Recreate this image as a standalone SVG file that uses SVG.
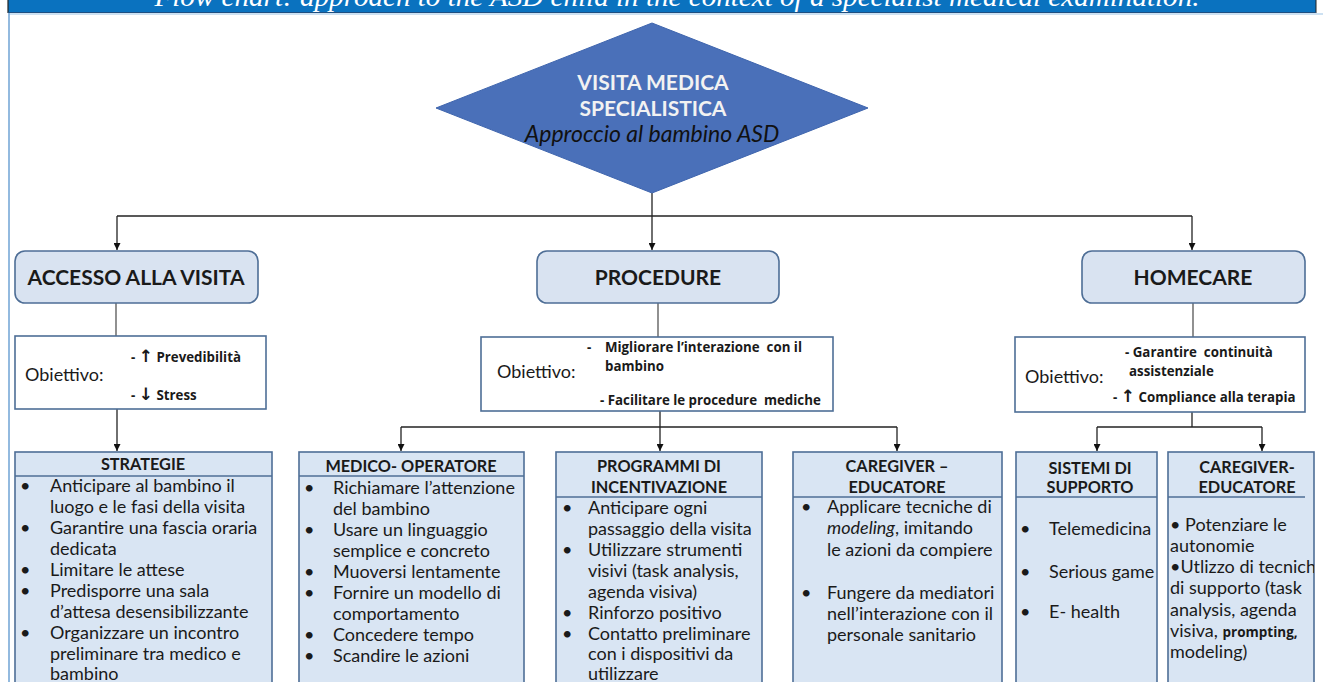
<svg xmlns="http://www.w3.org/2000/svg" width="1323" height="682" viewBox="0 0 1323 682">
<defs>
<marker id="arr" viewBox="0 0 10 10" refX="10" refY="5" markerWidth="7" markerHeight="7" markerUnits="userSpaceOnUse" orient="auto"><path d="M0,0 L10,5 L0,10 z" fill="#111"/></marker>
<clipPath id="cgclip"><rect x="1168" y="452" width="146" height="240"/></clipPath>
<style>
.main{fill:#d9e3f1;stroke:#4e6e96;stroke-width:1.6}
.obj{fill:#fff;stroke:#4e6e96;stroke-width:1.6}
.col{fill:#d9e5f3;stroke:#4e6e96;stroke-width:1.6}
.sep{stroke:#4e6e96;stroke-width:1.4;fill:none}
.hd{font-family:Lato,"Liberation Sans",sans-serif;font-weight:bold;fill:#1a1a1a;font-size:21px;text-anchor:middle}
.ch{font-family:Lato,"Liberation Sans",sans-serif;font-weight:bold;fill:#1a1a1a;font-size:16.3px;text-anchor:middle}
.li{font-family:Lato,"Liberation Sans",sans-serif;fill:#1a1a1a;font-size:18px}
.ob{font-family:Lato,"Liberation Sans",sans-serif;fill:#1a1a1a;font-size:18px}
.sm{font-family:"Open Sans","Liberation Sans",sans-serif;font-weight:bold;fill:#1a1a1a;font-size:13.3px;white-space:pre}
.ar{font-family:"DejaVu Sans",sans-serif;font-size:17px;font-weight:bold;fill:#1a1a1a}
.ln{stroke:#222;stroke-width:1.3;fill:none}
.lg{stroke:#555;stroke-width:1.3;fill:none}
</style>
</defs>
<rect width="1323" height="682" fill="#fff"/>
<!-- banner -->
<rect x="8" y="0" width="1308" height="12" fill="#0a72bf"/>
<line x1="8" y1="0" x2="8" y2="13" stroke="#222" stroke-width="1.2"/>
<line x1="1316" y1="0" x2="1316" y2="13" stroke="#222" stroke-width="1"/>
<line x1="8" y1="12.5" x2="1316" y2="12.5" stroke="#1f4f80" stroke-width="1"/>
<line x1="9" y1="14" x2="1323" y2="14" stroke="#9cc3e6" stroke-width="1.2"/>
<line x1="9" y1="13" x2="9" y2="682" stroke="#6fa3d4" stroke-width="1.5"/>
<text x="677" y="5.5" text-anchor="middle" font-family="Liberation Serif,serif" font-style="italic" font-size="27" fill="#fff" textLength="1045" lengthAdjust="spacingAndGlyphs">Flow chart: approach to the ASD child in the context of a specialist medical examination.</text>

<g id="connectors">
<path class="ln" d="M652,193 V216"/>
<path class="ln" d="M117,216 H1192"/>
<path class="ln" d="M117,216 V250" marker-end="url(#arr)"/>
<path class="ln" d="M652,216 V250" marker-end="url(#arr)"/>
<path class="ln" d="M1192,216 V250" marker-end="url(#arr)"/>
<path class="lg" d="M116,303 V336"/>
<path class="lg" d="M658,303 V337"/>
<path class="lg" d="M1193,303 V337"/>
<path class="ln" d="M117,409 V451" marker-end="url(#arr)"/>
<path class="ln" d="M660,411 V451" marker-end="url(#arr)"/>
<path class="ln" d="M401,427 H897"/>
<path class="ln" d="M401,427 V451" marker-end="url(#arr)"/>
<path class="ln" d="M897,427 V451" marker-end="url(#arr)"/>
<path class="ln" d="M1192,412 V427"/>
<path class="ln" d="M1097,427 H1262"/>
<path class="ln" d="M1097,427 V451" marker-end="url(#arr)"/>
<path class="ln" d="M1262,427 V451" marker-end="url(#arr)"/>
</g>

<g id="visita">
<polygon points="652,23 868,108 652,193 436,108" fill="#4a70b9" stroke="#3f65ad" stroke-width="1"/>
<text x="653" y="90" text-anchor="middle" font-family="Lato,'Liberation Sans',sans-serif" font-weight="bold" font-size="21" fill="#f2f2f2">VISITA MEDICA</text>
<text x="653" y="116" text-anchor="middle" font-family="Lato,'Liberation Sans',sans-serif" font-weight="bold" font-size="21" fill="#f2f2f2">SPECIALISTICA</text>
<text x="652" y="142" text-anchor="middle" font-family="Lato,'Liberation Sans',sans-serif" font-style="italic" font-size="23" fill="#111">Approccio al bambino ASD</text>
</g>

<g id="accesso">
<rect class="main" x="15" y="251" width="243" height="52" rx="10"/>
<text class="hd" x="136" y="285">ACCESSO ALLA VISITA</text>
</g>
<g id="procedure">
<rect class="main" x="537" y="251" width="242" height="52" rx="10"/>
<text class="hd" x="658" y="285">PROCEDURE</text>
</g>
<g id="homecare">
<rect class="main" x="1082" y="251" width="223" height="52" rx="10"/>
<text class="hd" x="1193" y="285">HOMECARE</text>
</g>

<g id="obiettivo-accesso">
<rect class="obj" x="15" y="336" width="251" height="73"/>
<text class="ob" x="25" y="381">Obiettivo:</text>
<text class="sm" x="131" y="362">- <tspan class="ar">↑</tspan> Prevedibilità</text>
<text class="sm" x="131" y="400">- <tspan class="ar">↓</tspan> Stress</text>
</g>
<g id="obiettivo-procedure">
<rect class="obj" x="481" y="337" width="352" height="74"/>
<text class="ob" x="497" y="378">Obiettivo:</text>
<text class="sm" x="587" y="352">-</text>
<text class="sm" x="605" y="352">Migliorare l’interazione  con il</text>
<text class="sm" x="605" y="371">bambino</text>
<text class="sm" x="600" y="405">- Facilitare le procedure  mediche</text>
</g>
<g id="obiettivo-homecare">
<rect class="obj" x="1015" y="337" width="290" height="75"/>
<text class="ob" x="1025" y="383">Obiettivo:</text>
<text class="sm" x="1125" y="357">- Garantire  continuità</text>
<text class="sm" x="1129" y="376">assistenziale</text>
<text class="sm" x="1113" y="402">- <tspan class="ar" font-size="21" font-weight="normal">↑</tspan> Compliance alla terapia</text>
</g>

<g id="strategie">
<rect class="col" x="15" y="452" width="257" height="240"/>
<line class="sep" x1="15" y1="476" x2="272" y2="476"/>
<text class="ch" x="143" y="470">STRATEGIE</text>
<g class="li">
<text x="20" y="492">•</text><text x="50" y="492">Anticipare al bambino il</text>
<text x="50" y="513">luogo e le fasi della visita</text>
<text x="20" y="534">•</text><text x="50" y="534">Garantire una fascia oraria</text>
<text x="50" y="555">dedicata</text>
<text x="20" y="576">•</text><text x="50" y="576">Limitare le attese</text>
<text x="20" y="597">•</text><text x="50" y="597">Predisporre una sala</text>
<text x="50" y="618">d’attesa desensibilizzante</text>
<text x="20" y="639">•</text><text x="50" y="639">Organizzare un incontro</text>
<text x="50" y="660">preliminare tra medico e</text>
<text x="50" y="680">bambino</text>
</g>
</g>

<g id="medico-operatore">
<rect class="col" x="299" y="452" width="225" height="240"/>
<line class="sep" x1="299" y1="476" x2="524" y2="476"/>
<text class="ch" x="411" y="472">MEDICO- OPERATORE</text>
<g class="li">
<text x="304" y="494">•</text><text x="333" y="494">Richiamare l’attenzione</text>
<text x="333" y="515">del bambino</text>
<text x="304" y="536">•</text><text x="333" y="536">Usare un linguaggio</text>
<text x="333" y="557">semplice e concreto</text>
<text x="304" y="578">•</text><text x="333" y="578">Muoversi lentamente</text>
<text x="304" y="599">•</text><text x="333" y="599">Fornire un modello di</text>
<text x="333" y="620">comportamento</text>
<text x="304" y="641">•</text><text x="333" y="641">Concedere tempo</text>
<text x="304" y="662">•</text><text x="333" y="662">Scandire le azioni</text>
</g>
</g>

<g id="programmi">
<rect class="col" x="556" y="452" width="206" height="240"/>
<line class="sep" x1="556" y1="497" x2="762" y2="497"/>
<text class="ch" x="659" y="472">PROGRAMMI DI</text>
<text class="ch" x="659" y="493">INCENTIVAZIONE</text>
<g class="li">
<text x="562" y="514">•</text><text x="588" y="514">Anticipare ogni</text>
<text x="588" y="535">passaggio della visita</text>
<text x="562" y="556">•</text><text x="588" y="556">Utilizzare strumenti</text>
<text x="588" y="577">visivi (task analysis,</text>
<text x="588" y="598">agenda visiva)</text>
<text x="562" y="619">•</text><text x="588" y="619">Rinforzo positivo</text>
<text x="562" y="640">•</text><text x="588" y="640">Contatto preliminare</text>
<text x="588" y="660">con i dispositivi da</text>
<text x="588" y="680">utilizzare</text>
</g>
</g>

<g id="caregiver-educatore-procedure">
<rect class="col" x="793" y="452" width="209" height="240"/>
<line class="sep" x1="793" y1="497" x2="1002" y2="497"/>
<text class="ch" x="897" y="472">CAREGIVER –</text>
<text class="ch" x="897" y="493">EDUCATORE</text>
<g class="li">
<text x="801" y="513">•</text><text x="827" y="513">Applicare tecniche di</text>
<text x="827" y="534"><tspan font-style="italic">modeling</tspan>, imitando</text>
<text x="827" y="556">le azioni da compiere</text>
<text x="801" y="599">•</text><text x="827" y="599">Fungere da mediatori</text>
<text x="827" y="620">nell’interazione con il</text>
<text x="827" y="641">personale sanitario</text>
</g>
</g>

<g id="sistemi-supporto">
<rect class="col" x="1016" y="452" width="141" height="240"/>
<line class="sep" x1="1016" y1="497" x2="1157" y2="497"/>
<text class="ch" x="1090" y="474">SISTEMI DI</text>
<text class="ch" x="1090" y="493">SUPPORTO</text>
<g class="li">
<text x="1020" y="535">•</text><text x="1049" y="535">Telemedicina</text>
<text x="1020" y="578">•</text><text x="1049" y="578">Serious game</text>
<text x="1020" y="618">•</text><text x="1049" y="618">E- health</text>
</g>
</g>

<g id="caregiver-educatore-homecare">
<rect class="col" x="1168" y="452" width="146" height="240"/>
<line class="sep" x1="1168" y1="497" x2="1305" y2="497"/>
<text class="ch" x="1247" y="473">CAREGIVER-</text>
<text class="ch" x="1247" y="493">EDUCATORE</text>
<g class="li" clip-path="url(#cgclip)" font-size="17.6">
<text x="1170" y="531">• Potenziare le</text>
<text x="1170" y="552">autonomie</text>
<text x="1170" y="573">•Utlizzo di tecniche</text>
<text x="1170" y="594">di supporto (task</text>
<text x="1170" y="616">analysis, agenda</text>
<text x="1170" y="637">visiva, <tspan font-family="'Open Sans',sans-serif" font-weight="bold" font-size="13.5">prompting,</tspan></text>
<text x="1170" y="658">modeling)</text>
</g>
</g>
</svg>
